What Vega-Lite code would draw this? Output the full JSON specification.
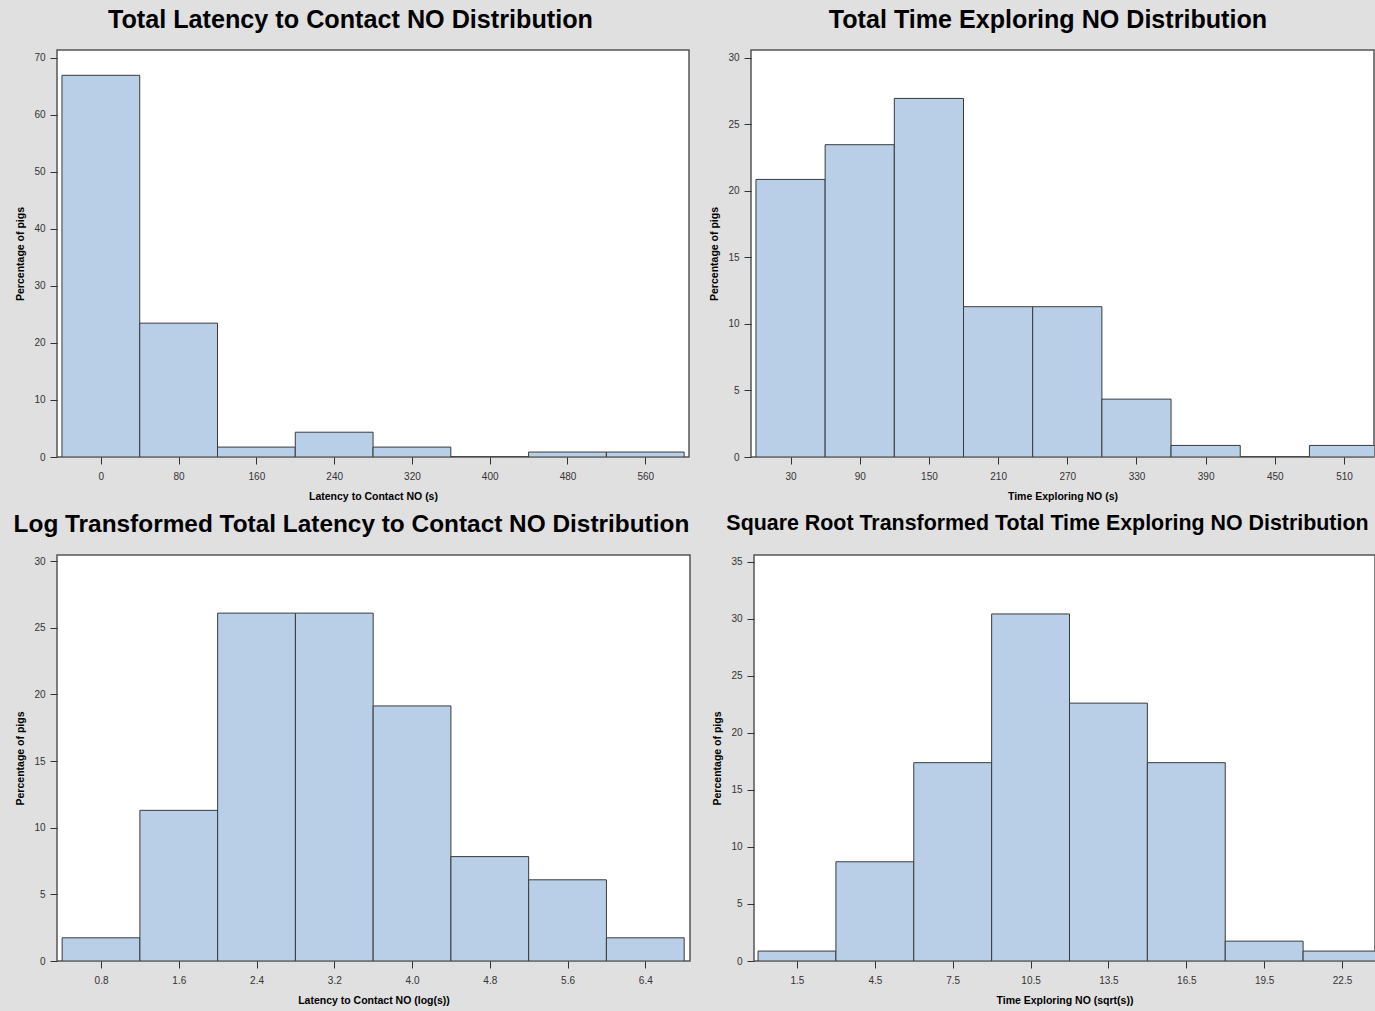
{
  "$schema": "https://vega.github.io/schema/vega-lite/v6.json",
  "background": "#e0e0e0",
  "padding": {"left": 12, "top": 7, "right": 0, "bottom": 4},
  "datasets": {
    "latency": [
      {"start": -40, "end": 40, "pct": 66.96},
      {"start": 40, "end": 120, "pct": 23.48},
      {"start": 120, "end": 200, "pct": 1.74},
      {"start": 200, "end": 280, "pct": 4.35},
      {"start": 280, "end": 360, "pct": 1.74},
      {"start": 360, "end": 440, "pct": 0},
      {"start": 440, "end": 520, "pct": 0.87},
      {"start": 520, "end": 600, "pct": 0.87}
    ],
    "explore": [
      {"start": 0, "end": 60, "pct": 20.87},
      {"start": 60, "end": 120, "pct": 23.48},
      {"start": 120, "end": 180, "pct": 26.96},
      {"start": 180, "end": 240, "pct": 11.30},
      {"start": 240, "end": 300, "pct": 11.30},
      {"start": 300, "end": 360, "pct": 4.35},
      {"start": 360, "end": 420, "pct": 0.87},
      {"start": 420, "end": 480, "pct": 0},
      {"start": 480, "end": 540, "pct": 0.87}
    ],
    "loglat": [
      {"start": 0.4, "end": 1.2, "pct": 1.74},
      {"start": 1.2, "end": 2.0, "pct": 11.30},
      {"start": 2.0, "end": 2.8, "pct": 26.09},
      {"start": 2.8, "end": 3.6, "pct": 26.09},
      {"start": 3.6, "end": 4.4, "pct": 19.13},
      {"start": 4.4, "end": 5.2, "pct": 7.83},
      {"start": 5.2, "end": 6.0, "pct": 6.09},
      {"start": 6.0, "end": 6.8, "pct": 1.74}
    ],
    "sqrtexp": [
      {"start": 0, "end": 3, "pct": 0.87},
      {"start": 3, "end": 6, "pct": 8.70},
      {"start": 6, "end": 9, "pct": 17.39},
      {"start": 9, "end": 12, "pct": 30.43},
      {"start": 12, "end": 15, "pct": 22.61},
      {"start": 15, "end": 18, "pct": 17.39},
      {"start": 18, "end": 21, "pct": 1.74},
      {"start": 21, "end": 24, "pct": 0.87}
    ]
  },
  "config": {
    "font": "Liberation Sans",
    "view": {"stroke": "#555555", "strokeWidth": 1.5, "fill": "#ffffff"},
    "axis": {
      "grid": false,
      "domain": false,
      "tickColor": "#333333",
      "tickSize": 7,
      "labelFont": "Liberation Sans",
      "labelFontSize": 10,
      "labelColor": "#333333",
      "labelPadding": 5,
      "titleFont": "Liberation Sans",
      "titleFontSize": 10.5,
      "titleFontWeight": "bold",
      "titleColor": "#000000"
    },
    "axisX": {"titlePadding": 10, "labelPadding": 7, "labelAngle": 0},
    "axisY": {"titlePadding": 8, "labelAngle": 0},
    "title": {"font": "Liberation Sans", "fontWeight": "bold", "color": "#000000", "anchor": "middle", "frame": "bounds", "baseline": "alphabetic"}
  },
  "spacing": 7,
  "vconcat": [
    {
      "spacing": 19,
      "hconcat": [
        {
          "title": {"text": "Total Latency to Contact NO Distribution", "fontSize": 25.2, "offset": 17, "dx": -2},
          "width": 632,
          "height": 407,
          "data": {"name": "latency"},
          "mark": {"type": "bar", "fill": "#b9cfe7", "stroke": "#3a3a3a", "strokeWidth": 1, "clip": true},
          "encoding": {
            "x": {"field": "start", "type": "quantitative", "scale": {"domain": [-45.1, 605], "nice": false, "zero": false}, "axis": {"values": [0, 80, 160, 240, 320, 400, 480, 560], "title": "Latency to Contact NO (s)"}},
            "x2": {"field": "end"},
            "y": {"field": "pct", "type": "quantitative", "scale": {"domain": [0, 71.4], "nice": false}, "axis": {"values": [0, 10, 20, 30, 40, 50, 60, 70], "title": "Percentage of pigs"}},
            "y2": {"datum": 0}
          }
        },
        {
          "title": {"text": "Total Time Exploring NO Distribution", "fontSize": 25.1, "offset": 17, "dx": 6},
          "width": 623,
          "height": 407,
          "data": {"name": "explore"},
          "mark": {"type": "bar", "fill": "#b9cfe7", "stroke": "#3a3a3a", "strokeWidth": 1, "clip": true},
          "encoding": {
            "x": {"field": "start", "type": "quantitative", "scale": {"domain": [-4.3, 536], "nice": false, "zero": false}, "axis": {"values": [30, 90, 150, 210, 270, 330, 390, 450, 510], "title": "Time Exploring NO (s)"}},
            "x2": {"field": "end"},
            "y": {"field": "pct", "type": "quantitative", "scale": {"domain": [0, 30.6], "nice": false}, "axis": {"values": [0, 5, 10, 15, 20, 25, 30], "title": "Percentage of pigs"}},
            "y2": {"datum": 0}
          }
        }
      ]
    },
    {
      "spacing": 21,
      "hconcat": [
        {
          "title": {"text": "Log Transformed Total Latency to Contact NO Distribution", "fontSize": 24.4, "offset": 18, "dx": -1.5},
          "width": 633,
          "height": 406,
          "data": {"name": "loglat"},
          "mark": {"type": "bar", "fill": "#b9cfe7", "stroke": "#3a3a3a", "strokeWidth": 1, "clip": true},
          "encoding": {
            "x": {"field": "start", "type": "quantitative", "scale": {"domain": [0.347, 6.86], "nice": false, "zero": false}, "axis": {"values": [0.8, 1.6, 2.4, 3.2, 4.0, 4.8, 5.6, 6.4], "format": ".1f", "title": "Latency to Contact NO (log(s))"}},
            "x2": {"field": "end"},
            "y": {"field": "pct", "type": "quantitative", "scale": {"domain": [0, 30.45], "nice": false}, "axis": {"values": [0, 5, 10, 15, 20, 25, 30], "title": "Percentage of pigs"}},
            "y2": {"datum": 0}
          }
        },
        {
          "title": {"text": "Square Root Transformed Total Time Exploring NO Distribution", "fontSize": 21.4, "offset": 21, "dx": 3.5},
          "width": 621,
          "height": 406,
          "data": {"name": "sqrtexp"},
          "mark": {"type": "bar", "fill": "#b9cfe7", "stroke": "#3a3a3a", "strokeWidth": 1, "clip": true},
          "encoding": {
            "x": {"field": "start", "type": "quantitative", "scale": {"domain": [-0.156, 23.77], "nice": false, "zero": false}, "axis": {"values": [1.5, 4.5, 7.5, 10.5, 13.5, 16.5, 19.5, 22.5], "format": ".1f", "title": "Time Exploring NO (sqrt(s))"}},
            "x2": {"field": "end"},
            "y": {"field": "pct", "type": "quantitative", "scale": {"domain": [0, 35.6], "nice": false}, "axis": {"values": [0, 5, 10, 15, 20, 25, 30, 35], "title": "Percentage of pigs"}},
            "y2": {"datum": 0}
          }
        }
      ]
    }
  ]
}
